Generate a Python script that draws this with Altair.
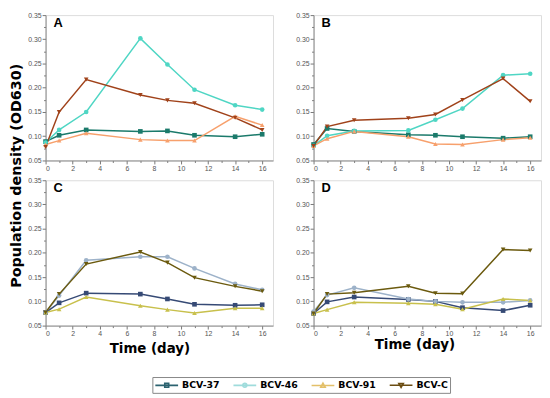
import altair as alt
import pandas as pd

days = [0, 1, 3, 7, 9, 11, 14, 16]
series = ["BCV-37", "BCV-46", "BCV-91", "BCV-C"]

# Panel A
a_bcv37 = [0.089, 0.102, 0.113, 0.110, 0.111, 0.102, 0.099, 0.104]
a_bcv46 = [0.087, 0.113, 0.150, 0.302, 0.248, 0.196, 0.164, 0.155]
a_bcv91 = [0.083, 0.091, 0.106, 0.093, 0.091, 0.091, 0.141, 0.123]
a_bcvc = [0.078, 0.150, 0.217, 0.185, 0.174, 0.168, 0.138, 0.113]
# Panel B
b_bcv37 = [0.083, 0.116, 0.110, 0.103, 0.102, 0.099, 0.096, 0.099]
b_bcv46 = [0.080, 0.101, 0.111, 0.112, 0.134, 0.157, 0.226, 0.229]
b_bcv91 = [0.080, 0.095, 0.110, 0.099, 0.084, 0.083, 0.093, 0.097]
b_bcvc = [0.080, 0.120, 0.133, 0.137, 0.145, 0.175, 0.219, 0.172]
# Panel C
c_bcv37 = [0.077, 0.097, 0.117, 0.115, 0.105, 0.094, 0.092, 0.093]
c_bcv46 = [0.077, 0.112, 0.185, 0.192, 0.192, 0.168, 0.136, 0.124]
c_bcv91 = [0.077, 0.084, 0.109, 0.091, 0.083, 0.076, 0.086, 0.086]
c_bcvc = [0.077, 0.115, 0.177, 0.202, 0.180, 0.149, 0.131, 0.121]
# Panel D
d_bcv37 = [0.075, 0.099, 0.109, 0.104, 0.100, 0.087, 0.081, 0.092]
d_bcv46 = [0.079, 0.113, 0.128, 0.105, 0.100, 0.098, 0.098, 0.102]
d_bcv91 = [0.075, 0.083, 0.098, 0.096, 0.094, 0.084, 0.105, 0.102]
d_bcvc = [0.075, 0.115, 0.118, 0.131, 0.117, 0.116, 0.207, 0.205]

x_ticks = list(range(0, 17))
y_ticks = [0.05, 0.075, 0.1, 0.125, 0.15, 0.175, 0.2, 0.225, 0.25, 0.275, 0.3, 0.325, 0.35]

colors_ab = ["#1b7a6b", "#4fd6c4", "#f7a06c", "#a0421a"]
colors_cd = ["#364a75", "#9db2c9", "#c8c04c", "#6b5a0e"]
colors_legend = ["#2c6370", "#9fdcdc", "#e3c06a", "#6b4d12"]
shapes = ["square", "circle", "triangle-up", "triangle-down"]
legend_paths = [
    "M-1,0H3.6M0.9,-0.4H1.7V0.4H0.9Z",
    "M-1,0H3.6M0.9,0A0.4,0.4 0 1,0 1.7,0A0.4,0.4 0 1,0 0.9,0Z",
    "M-1,0H3.6M1.3,-0.45L1.75,0.35H0.85Z",
    "M-1,0H3.6M1.3,0.45L1.75,-0.35H0.85Z",
]


def make_df(vals):
    rows = []
    for s, v in zip(series, vals):
        for d, y in zip(days, v):
            rows.append({"day": d, "od": y, "series": s})
    return pd.DataFrame(rows)


LABEL_FONT = "Liberation Sans"
TITLE_FONT = "DejaVu Sans"


def panel(vals, colors, label, xtitle=None, xtitle_x=None, xtitle_y=18, ytitle=False):
    df = make_df(vals)
    x_kwargs = dict(
        values=x_ticks,
        labelExpr="datum.value % 2 === 0 ? datum.label : ''",
        tickSize={"condition": {"test": "datum.value % 2 === 0", "value": 3.5}, "value": 2},
        labelFontSize=7, labelFont=LABEL_FONT, labelColor="#555",
        tickColor="#777", domainColor="#888", grid=False, labelPadding=1,
    )
    if xtitle:
        x_kwargs.update(title=xtitle, titleX=xtitle_x, titleY=xtitle_y, titleBaseline="top",
                        titleAlign="center", titleFont=TITLE_FONT, titleFontSize=13.5,
                        titleFontWeight="bold", titleColor="#000")
    else:
        x_kwargs.update(title=None)
    y_kwargs = dict(
        values=y_ticks,
        labelExpr="round(datum.value*1000) % 50 === 0 ? format(datum.value, '.2f') : ''",
        tickSize={"condition": {"test": "round(datum.value*1000) % 50 === 0", "value": 3.5}, "value": 2},
        labelFontSize=7, labelFont=LABEL_FONT, labelColor="#555",
        tickColor="#777", domainColor="#888", grid=False, labelPadding=1,
    )
    if ytitle:
        y_kwargs.update(title="Population density (OD630)", titleX=-22, titleY=162,
                        titleAngle=270, titleAlign="center", titleBaseline="bottom",
                        titleFont=TITLE_FONT, titleFontSize=14.5, titleFontWeight="bold",
                        titleColor="#000")
    else:
        y_kwargs.update(title=None)

    x = alt.X("day:Q", scale=alt.Scale(domain=[0, 16.8], nice=False, zero=False),
              axis=alt.Axis(**x_kwargs))
    y = alt.Y("od:Q", scale=alt.Scale(domain=[0.05, 0.35], nice=False, zero=False),
              axis=alt.Axis(**y_kwargs))
    color = alt.Color("series:N", scale=alt.Scale(domain=series, range=colors), legend=None)
    shape = alt.Shape("series:N", scale=alt.Scale(domain=series, range=shapes), legend=None)
    base = alt.Chart(df)
    lines = base.mark_line(strokeWidth=1.5).encode(x=x, y=y, color=color, detail="series:N")
    pts = base.mark_point(filled=True, size=22, opacity=1).encode(x=x, y=y, color=color, shape=shape)
    return alt.layer(lines, pts).properties(
        width=230, height=147,
        title=alt.TitleParams(label, anchor="start", frame="group", offset=-19, dx=8,
                              font="Liberation Sans", fontSize=13, fontWeight="bold", color="#000"),
    )


pA = panel([a_bcv37, a_bcv46, a_bcv91, a_bcvc], colors_ab, "A", ytitle=True)
pB = panel([b_bcv37, b_bcv46, b_bcv91, b_bcvc], colors_ab, "B")
pC = panel([c_bcv37, c_bcv46, c_bcv91, c_bcvc], colors_cd, "C", xtitle="Time (day)",
           xtitle_x=105, xtitle_y=16)
pD = panel([d_bcv37, d_bcv46, d_bcv91, d_bcvc], colors_cd, "D", xtitle="Time (day)",
           xtitle_x=102, xtitle_y=12)

legend_df = pd.DataFrame({"series": series})
legend_chart = alt.Chart(legend_df).mark_point(filled=False, opacity=0, size=100).encode(
    color=alt.Color("series:N", scale=alt.Scale(domain=series, range=colors_legend),
                    legend=alt.Legend(
                        orient="none", legendX=108, legendY=32, direction="horizontal",
                        columns=4, title=None, symbolSize=100, symbolStrokeWidth=1.6,
                        symbolOpacity=1, labelFont=TITLE_FONT, labelFontWeight="bold",
                        labelFontSize=9.5, labelColor="#000", labelOffset=16,
                        columnPadding=9, strokeColor="#888", padding=2, gridAlign="all")),
    shape=alt.Shape("series:N", scale=alt.Scale(domain=series, range=legend_paths)),
).properties(width=1, height=1, view=alt.ViewBackground(stroke="transparent"))

chart = alt.concat(pA, pB, pC, pD, legend_chart, columns=2,
                   spacing={"row": 20, "column": 41}, bounds="flush").resolve_scale(
    color="independent", shape="independent"
).properties(padding=0).configure_view(stroke="#888", strokeWidth=1).configure(background="white")

chart.save("out.html", embed_options={"renderer": "svg", "actions": False})
